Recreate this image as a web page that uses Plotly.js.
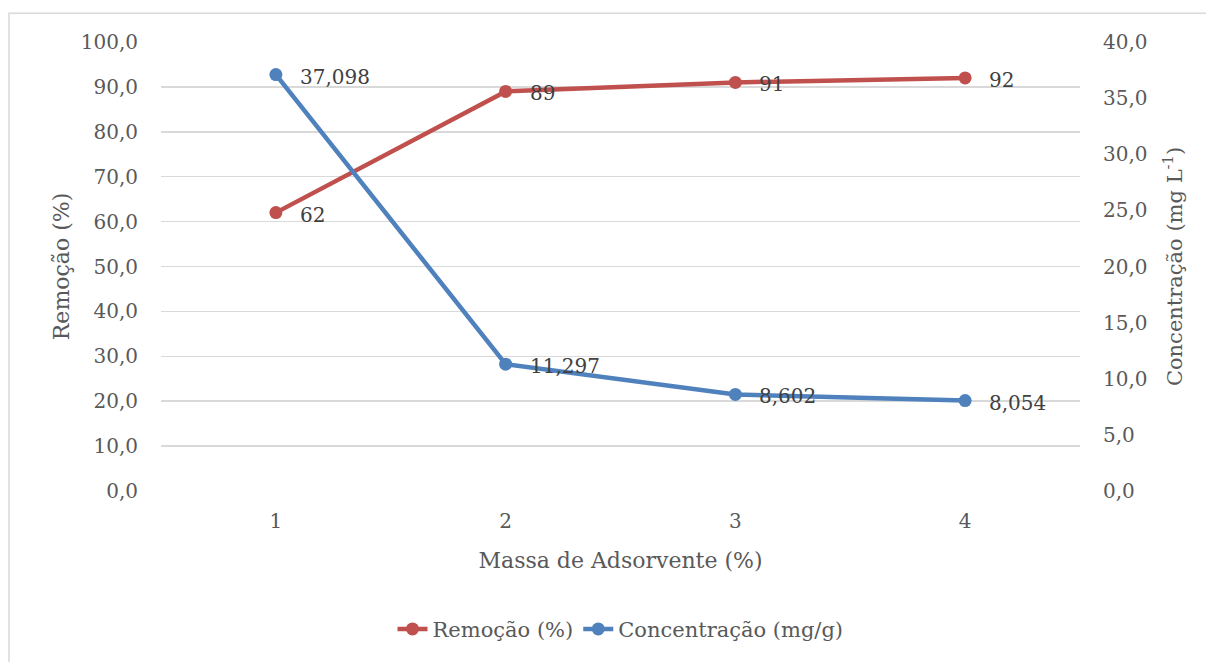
<!DOCTYPE html>
<html>
<head>
<meta charset="utf-8">
<script src="https://cdn.plot.ly/plotly-3.0.1.min.js"></script>
<style>
  html, body { margin: 0; padding: 0; background: #ffffff; }
  #chart { width: 1206px; height: 662px; }
</style>
</head>
<body>
<div id="chart"></div>
<script>
// Adsorbent mass levels (%)
const massa = [1, 2, 3, 4];
// Removal efficiency (%)
const remocao = [62, 89, 91, 92];
const remocaoLabels = ['62', '89', '91', '92'];
// Remaining concentration
const concentracao = [37.098, 11.297, 8.602, 8.054];
const concentracaoLabels = ['37,098', '11,297', '8,602', '8,054'];

const leftTicks = [0, 10, 20, 30, 40, 50, 60, 70, 80, 90, 100];
const leftTickText = ['0,0', '10,0', '20,0', '30,0', '40,0', '50,0', '60,0', '70,0', '80,0', '90,0', '100,0'];
const rightTicks = [0, 5, 10, 15, 20, 25, 30, 35, 40];
const rightTickText = ['0,0', '5,0', '10,0', '15,0', '20,0', '25,0', '30,0', '35,0', '40,0'];

const FONT = 'DejaVu Serif, Liberation Serif, serif';
const GREY = '#595959';
const LABEL = '#404040';
const RED = '#C0504D';
const BLUE = '#4F81BD';

const traces = [
  {
    x: massa, y: remocao, name: 'Remoção (%)', type: 'scatter', mode: 'lines+markers',
    line: { color: RED, width: 4.5 },
    marker: { color: RED, size: 13 },
    cliponaxis: false, hoverinfo: 'skip'
  },
  {
    x: massa, y: concentracao, name: 'Concentração (mg/g)', type: 'scatter', mode: 'lines+markers',
    yaxis: 'y2',
    line: { color: BLUE, width: 4.5 },
    marker: { color: BLUE, size: 13 },
    cliponaxis: false, hoverinfo: 'skip'
  }
];

// Value labels placed to the right of each point
const annotations = [];
massa.forEach((m, i) => {
  annotations.push({
    x: m, y: remocao[i], xref: 'x', yref: 'y', text: remocaoLabels[i],
    showarrow: false, xanchor: 'left', yanchor: 'middle', xshift: 22, yshift: -2,
    font: { family: FONT, size: 20, color: LABEL }
  });
  annotations.push({
    x: m, y: concentracao[i], xref: 'x', yref: 'y2', text: concentracaoLabels[i],
    showarrow: false, xanchor: 'left', yanchor: 'middle', xshift: 22, yshift: -2,
    font: { family: FONT, size: 20, color: LABEL }
  });
});

const layout = {
  width: 1206, height: 662,
  margin: { l: 161, r: 126, t: 42, b: 169 },
  paper_bgcolor: '#ffffff', plot_bgcolor: '#ffffff',
  font: { family: FONT, size: 20, color: GREY },
  showlegend: true,
  legend: {
    orientation: 'h', x: 0.5, xanchor: 'center', y: -0.308, yanchor: 'middle',
    font: { family: FONT, size: 21, color: GREY }, traceorder: 'normal'
  },
  xaxis: {
    range: [0.5, 4.5], tickvals: massa, ticktext: massa.map(String),
    showgrid: false, zeroline: false, showline: false,
    ticks: 'outside', ticklen: 12, tickcolor: 'rgba(0,0,0,0)',
    tickfont: { family: FONT, size: 20, color: GREY },
    title: { text: 'Massa de Adsorvente (%)', font: { family: FONT, size: 22, color: GREY }, standoff: 20 }
  },
  yaxis: {
    range: [0, 100], tickvals: leftTicks, ticktext: leftTickText,
    showgrid: true, gridcolor: '#D9D9D9', gridwidth: 1.5, zeroline: false, showline: false,
    ticks: 'outside', ticklen: 18, tickcolor: 'rgba(0,0,0,0)',
    tickfont: { family: FONT, size: 20, color: GREY },
    title: { text: 'Remoção (%)', font: { family: FONT, size: 22, color: GREY }, standoff: 5 }
  },
  yaxis2: {
    overlaying: 'y', side: 'right', range: [0, 40],
    tickvals: rightTicks, ticktext: rightTickText,
    showgrid: false, zeroline: false, showline: false,
    ticks: 'outside', ticklen: 18, tickcolor: 'rgba(0,0,0,0)',
    tickfont: { family: FONT, size: 20, color: GREY },
    title: { text: 'Concentração (mg L<sup>-1</sup>)', font: { family: FONT, size: 21, color: GREY }, standoff: 20 }
  },
  annotations: annotations,
  shapes: [
    { type: 'rect', xref: 'paper', yref: 'paper', x0: -0.1654, x1: 1.3, y0: -0.6, y1: 1.0643,
      line: { color: '#D9D9D9', width: 1.5 }, fillcolor: 'rgba(0,0,0,0)', layer: 'below' }
  ]
};

Plotly.newPlot('chart', traces, layout, { staticPlot: true, displayModeBar: false });
</script>
</body>
</html>
